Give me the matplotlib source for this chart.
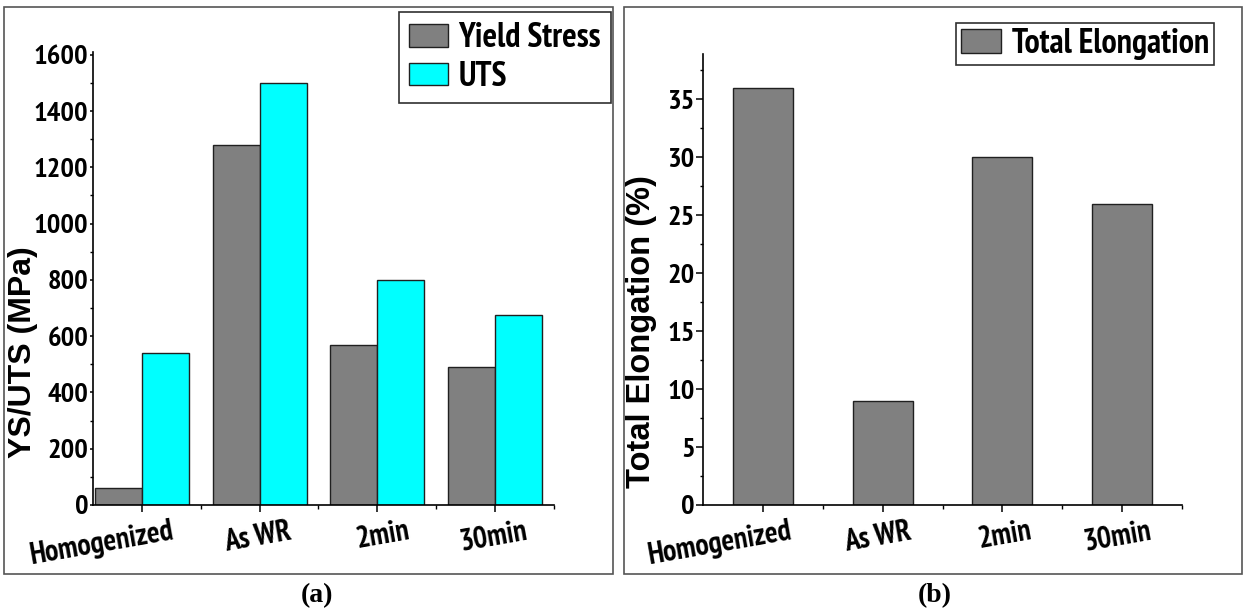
import matplotlib
matplotlib.use('Agg')
import matplotlib.pyplot as plt
import matplotlib.transforms as mtrans
from matplotlib import font_manager as fm
from matplotlib.patches import Rectangle
from matplotlib.ticker import MultipleLocator
import numpy as np

categories = ['Homogenized', 'As WR', '2min', '30min']
yield_stress = [62, 1280, 570, 490]
uts = [540, 1500, 800, 675]
elongation = [36, 9, 30, 26]

# condensed bold face like Arial Narrow Bold, whichever is installed
bold_faces = {f.name for f in fm.fontManager.ttflist
              if isinstance(f.weight, int) and f.weight >= 700}
wanted = ['Liberation Sans Narrow', 'Arial Narrow', 'Archivo Narrow',
          'PT Sans Narrow', 'Roboto Condensed', 'Pragati Narrow',
          'Asap Condensed', 'IBM Plex Sans Condensed', 'Fira Sans Condensed',
          'Encode Sans Condensed', 'Barlow Semi Condensed']
narrow = [n for n in wanted if n in bold_faces][:1] + ['Liberation Sans', 'DejaVu Sans']
W, H = 1245, 616

fig = plt.figure(figsize=(W / 100, H / 100), dpi=100)


def px_axes(x0, x1, ytop, ybot):
    return fig.add_axes([x0 / W, 1 - ybot / H, (x1 - x0) / W, (ybot - ytop) / H])


def style(ax, ymaj, ymin, ylen, shift):
    for s in ['top', 'right']:
        ax.spines[s].set_visible(False)
    for s in ['left', 'bottom']:
        ax.spines[s].set_linewidth(1.2)
    ax.yaxis.set_major_locator(MultipleLocator(ymaj))
    ax.yaxis.set_minor_locator(MultipleLocator(ymin))
    ax.tick_params(axis='y', which='major', length=ylen, width=1.1, pad=1)
    ax.tick_params(axis='y', which='minor', length=2.2, width=1.0)
    ax.tick_params(axis='x', which='major', length=4.8, width=1.1, pad=4)
    ax.tick_params(axis='x', which='minor', length=3, width=1.0)
    ax.set_xticks(range(len(categories)))
    ax.set_xticks(np.arange(len(categories)) + 0.5, minor=True)
    ax.set_xticklabels(categories, rotation=10, ha='right',
                       family=narrow, fontweight='bold', fontsize=21.5)
    off = mtrans.ScaledTranslation(shift / 100, 0, fig.dpi_scale_trans)
    for lab in ax.get_xticklabels():
        lab.set_transform(lab.get_transform() + off)
    for lab in ax.get_yticklabels():
        lab.set_family(narrow)
        lab.set_fontweight('bold')
        lab.set_fontsize(20.5)


x = np.arange(len(categories))
legend_font = {'family': narrow, 'weight': 'bold', 'size': 24.5}

# (a) strength
ax1 = px_axes(93, 554, 52, 505)
ax1.bar(x - 0.2, yield_stress, 0.4, color='#808080', edgecolor='#202020',
        linewidth=1, label='Yield Stress')
ax1.bar(x + 0.2, uts, 0.4, color='#00FFFF', edgecolor='#202020',
        linewidth=1, label='UTS')
ax1.set_xlim(-0.415, 3.49)
ax1.set_ylim(0, 1610)
style(ax1, 200, 100, 2.5, 34)
ax1.set_ylabel('YS/UTS (MPa)', family='Liberation Sans', fontweight='bold',
               fontsize=23)
ax1.yaxis.set_label_coords(-0.12, 0.338)
leg1 = ax1.legend(loc='upper right', bbox_to_anchor=(611 / W, 1 - 12 / H),
                  bbox_transform=fig.transFigure, borderaxespad=0,
                  prop=legend_font, fancybox=False, edgecolor='#303030',
                  framealpha=1, handlelength=1.15, handleheight=0.65,
                  handletextpad=0.3, labelspacing=0.2, borderpad=0.3)
leg1.get_frame().set_linewidth(1.2)

# (b) elongation
ax2 = px_axes(703, 1182, 54, 505)
ax2.bar(x, elongation, 0.5, color='#808080', edgecolor='#202020',
        linewidth=1, label='Total Elongation')
ax2.set_xlim(-0.5, 3.49)
ax2.set_ylim(0, 38.9)
style(ax2, 5, 2.5, 5, 31)
ax2.set_ylabel('Total Elongation (%)', family='Liberation Sans',
               fontweight='bold', fontsize=23.5)
ax2.yaxis.set_label_coords(-0.095, 0.384)
leg2 = ax2.legend(loc='upper right', bbox_to_anchor=(1214 / W, 1 - 23 / H),
                  bbox_transform=fig.transFigure, borderaxespad=0,
                  prop=legend_font, fancybox=False, edgecolor='#303030',
                  framealpha=1, handlelength=1.2, handleheight=0.7,
                  handletextpad=0.3, borderpad=0.15)
leg2.get_frame().set_linewidth(1.2)

# panel frames
for x0, x1 in [(4, 613), (624, 1242)]:
    fig.patches.append(Rectangle((x0 / W, 1 - 574 / H), (x1 - x0) / W,
                                 (574 - 7) / H, transform=fig.transFigure,
                                 fill=False, edgecolor='#555555', linewidth=1.2))

fig.text(317 / W, 1 - 596 / H, '(a)', family='Liberation Serif',
         fontweight='bold', fontsize=20, ha='center', va='center')
fig.text(935 / W, 1 - 596 / H, '(b)', family='Liberation Serif',
         fontweight='bold', fontsize=20, ha='center', va='center')

fig.savefig('out.png', dpi=100)
